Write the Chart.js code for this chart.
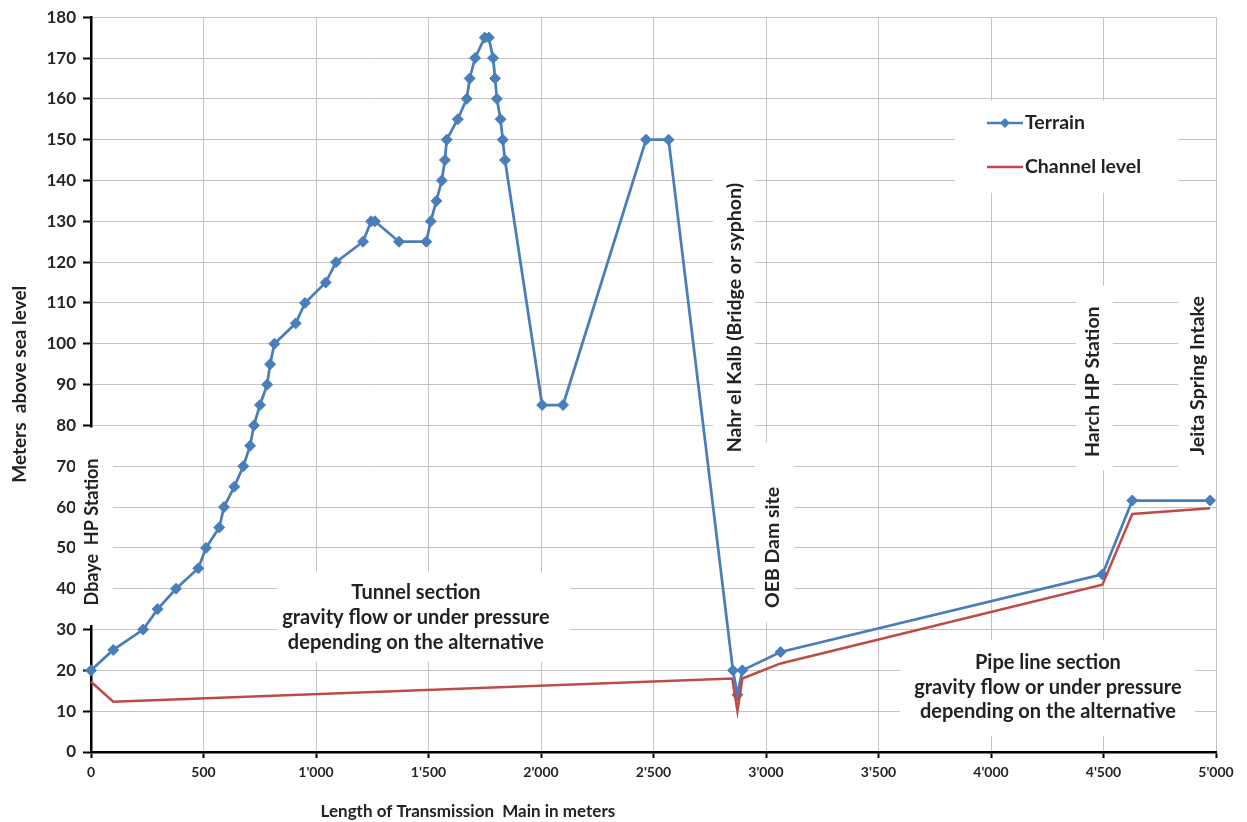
<!DOCTYPE html>
<html>
<head>
<meta charset="utf-8">
<script src="https://cdn.jsdelivr.net/npm/chart.js@4.4.1/dist/chart.umd.min.js"></script>
<style>
html,body{margin:0;padding:0;background:#fff;}
#wrap{width:1247px;height:822px;position:relative;}
</style>
</head>
<body>
<div id="wrap"><canvas id="c" width="1247" height="822"></canvas></div>
<script>
// ---- Data ----
const terrainX = [0,99,232,296,378,477,511,570,591,637,677,707,724,751,783,796,815,910,951,1043,1089,1209,1245,1262,1369,1490,1510,1535,1559,1573,1581,1630,1670,1683,1707,1750,1768,1787,1796,1804,1820,1830,1840,2005,2098,2467,2567,2853,2873,2895,3065,4495,4628,4974];
const terrainY = [20,25,30,35,40,45,50,55,60,65,70,75,80,85,90,95,100,105,110,115,120,125,130,130,125,125,130,135,140,145,150,155,160,165,170,175,175,170,165,160,155,150,145,85,85,150,150,20,14,20,24.5,43.5,61.6,61.6];
const channelX = [0,99,2850,2873,2895,3065,4495,4628,4974];
const channelY = [17.2,12.3,18,10,18,21.7,41,58.3,59.7];
const xTickLabels = ["0","500","1'000","1'500","2'000","2'500","3'000","3'500","4'000","4'500","5'000"];
const yTickValues = [0,10,20,30,40,50,60,70,80,90,100,110,120,130,140,150,160,170,180];
const seriesNames = ["Terrain","Channel level"];
const xTitle = "Length of Transmission  Main in meters";
const yTitle = "Meters  above sea level";

// annotation texts (positions in data units)
const annotations = [
  {lines:["Dbaye  HP Station"], size:18, x:4, y:[53.9], rotate:true, box:[-71,79.5,98,31.1]},
  {lines:["Nahr el Kalb (Bridge or syphon)"], size:19.5, x:2862, y:[106.4], rotate:true, box:[2764,142.3,2951,70.9]},
  {lines:["OEB Dam site"], size:19.5, x:3031, y:[50.1], rotate:true, box:[2951,75.8,3124,31.8]},
  {lines:["Harch HP Station"], size:19.5, x:4453, y:[90.7], rotate:true, box:[4378,114.2,4542,69]},
  {lines:["Jeita Spring Intake"], size:19.5, x:4920, y:[92.2], rotate:true, box:[4831,114.7,5000,69]},
  {lines:["Tunnel section","gravity flow or under pressure","depending on the alternative"], size:20, x:1444, y:[39.1,33.0,26.9], rotate:false, box:[827,44,2129,22]},
  {lines:["Pipe line section","gravity flow or under pressure","depending on the alternative"], size:20, x:4253, y:[22.0,15.9,9.8], rotate:false, box:[3596,27.4,4907,3.9]}
];

const BLUE = '#4A7EBB';
const RED = '#BE4B48';
const FONT = 'Lato, "Open Sans", "DejaVu Sans", sans-serif';

const toPts = (xs, ys) => xs.map((x,i)=>({x:x, y:ys[i]}));

const overlay = {
  id:'overlay',
  beforeDatasetsDraw(chart){
    const ctx = chart.ctx, xs = chart.scales.x, ys = chart.scales.y;
    ctx.save();
    annotations.forEach(a=>{
      const x0 = xs.getPixelForValue(a.box[0]), x1 = xs.getPixelForValue(a.box[2]);
      const y0 = ys.getPixelForValue(a.box[1]), y1 = ys.getPixelForValue(a.box[3]);
      ctx.fillStyle = '#fff';
      ctx.fillRect(x0, y0, x1-x0, y1-y0);
      ctx.fillStyle = '#222';
      ctx.font = 'bold ' + a.size + 'px ' + FONT;
      ctx.textAlign = 'center';
      ctx.textBaseline = 'middle';
      a.lines.forEach((t,i)=>{
        const px = xs.getPixelForValue(a.x), py = ys.getPixelForValue(a.y[i]);
        if (a.rotate){
          ctx.save(); ctx.translate(px, py); ctx.rotate(-Math.PI/2);
          ctx.fillText(t, 0, 0); ctx.restore();
        } else {
          ctx.fillText(t, px, py);
        }
      });
    });
    // legend
    const lx0 = xs.getPixelForValue(3840), lx1 = xs.getPixelForValue(4831);
    const ly0 = ys.getPixelForValue(159.5), ly1 = ys.getPixelForValue(137);
    ctx.fillStyle = '#fff';
    ctx.fillRect(lx0, ly0, lx1-lx0, ly1-ly0);
    const sx0 = xs.getPixelForValue(3982), sx1 = xs.getPixelForValue(4142);
    const rows = [{c:BLUE, y:154.1, marker:true},{c:RED, y:143.3, marker:false}];
    rows.forEach((r,i)=>{
      const py = ys.getPixelForValue(r.y);
      ctx.strokeStyle = r.c; ctx.lineWidth = 2.5;
      ctx.beginPath(); ctx.moveTo(sx0, py); ctx.lineTo(sx1, py); ctx.stroke();
      if (r.marker){
        const mx = (sx0+sx1)/2;
        ctx.fillStyle = r.c;
        ctx.beginPath(); ctx.moveTo(mx, py-5); ctx.lineTo(mx+5, py); ctx.lineTo(mx, py+5); ctx.lineTo(mx-5, py); ctx.closePath(); ctx.fill();
      }
      ctx.fillStyle = '#222';
      ctx.font = 'bold 19.5px ' + FONT;
      ctx.textAlign = 'left'; ctx.textBaseline = 'middle';
      ctx.fillText(seriesNames[i], sx1 + 2, py);
    });
    // axis titles
    const ca = chart.chartArea;
    ctx.fillStyle = '#222';
    ctx.textAlign = 'center'; ctx.textBaseline = 'middle';
    ctx.font = 'bold 17px ' + FONT;
    ctx.fillText(xTitle, ca.left + 0.335*(ca.right-ca.left), 812);
    ctx.font = 'bold 19px ' + FONT;
    ctx.save(); ctx.translate(20, ca.top + 0.4995*(ca.bottom-ca.top)); ctx.rotate(-Math.PI/2);
    ctx.fillText(yTitle, 0, 0); ctx.restore();
    ctx.restore();
  }
};

new Chart(document.getElementById('c'), {
  type:'line',
  data:{
    datasets:[
      {label:seriesNames[0], data:toPts(terrainX, terrainY), borderColor:BLUE, backgroundColor:BLUE,
       borderWidth:2.75, pointStyle:'rectRot', pointRadius:5.5, pointHoverRadius:5.5, pointBorderWidth:1,
       tension:0, clip:false, order:1},
      {label:seriesNames[1], data:toPts(channelX, channelY), borderColor:RED, backgroundColor:RED,
       borderWidth:2.5, pointRadius:0, tension:0, clip:false, order:0}
    ]
  },
  options:{
    responsive:false, animation:false, devicePixelRatio:1,
    layout:{padding:{top:16, right:31, left:0, bottom:0}},
    plugins:{legend:{display:false}, tooltip:{enabled:false}},
    scales:{
      x:{type:'linear', min:0, max:5000,
         afterFit(s){ s.height = 70; },
         afterBuildTicks(s){ s.ticks = xTickLabels.map((l,i)=>({value:i*500})); },
         ticks:{stepSize:500, autoSkip:false, maxRotation:0, padding:6, color:'#262626',
                font:{family:FONT, size:14, weight:'bold'},
                callback:(v,i)=>xTickLabels[i]},
         grid:{color:'#c4c4c4', lineWidth:1, tickColor:'#000', tickLength:6, tickWidth:2},
         border:{color:'#000', width:2.5}},
      y:{min:0, max:180,
         afterFit(s){ s.width = 91; },
         afterBuildTicks(s){ s.ticks = yTickValues.map(v=>({value:v})); },
         ticks:{stepSize:10, padding:7, color:'#262626', font:{family:FONT, size:17, weight:'bold'}},
         grid:{color:'#c4c4c4', lineWidth:1, tickColor:'#000', tickLength:8, tickWidth:2},
         border:{color:'#000', width:2.5}}
    }
  },
  plugins:[overlay]
});
</script>
</body>
</html>
